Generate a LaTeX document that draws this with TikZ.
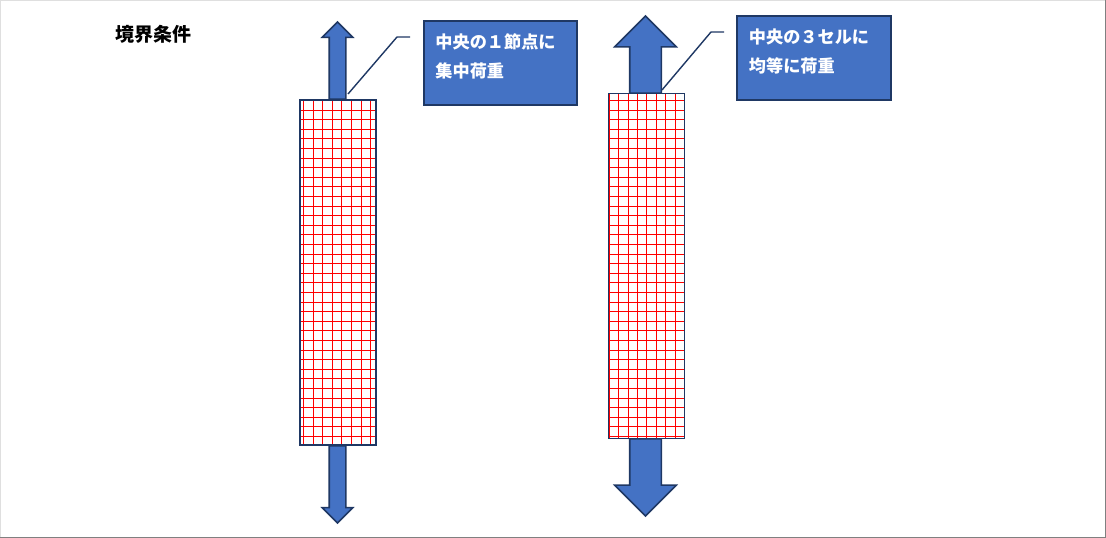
\documentclass[tikz,border=0pt]{standalone}
\usepackage{fontspec}
\usepackage{xcolor}
\setmainfont{Noto Sans CJK JP}
\definecolor{myblue}{HTML}{4472C4}
\definecolor{mynavy}{HTML}{1F3864}
\usetikzlibrary{shapes,arrows,positioning}

\begin{document}
\begin{tikzpicture}[
    x=0.025cm, y=-0.025cm,
    bar/.style={draw=mynavy, line width=1.2pt, minimum width=1.9cm, minimum height=8.625cm, inner sep=0pt},
    meshline/.style={red, line width=0.72pt},
    smallarrow/.style={single arrow, draw=mynavy, line width=1.1pt, fill=myblue, inner sep=0.1875cm, minimum width=0.72cm, single arrow head extend=0.175cm},
    bigarrow/.style={single arrow, draw=mynavy, line width=1.1pt, fill=myblue, inner sep=0.375cm, minimum width=1.5cm, single arrow head extend=0.375cm},
    notebox/.style={draw=mynavy, line width=1.4pt, fill=myblue, text=white, font=\fontsize{12.2}{20.6}\selectfont\bfseries, align=left, text width=3.25cm, minimum width=3.84cm, minimum height=2.1cm, inner xsep=0.295cm, inner ysep=0pt, text depth=1.08cm},
    leader/.style={draw=mynavy, line width=1pt},
]

\useasboundingbox (0,0) rectangle (1106,538);

% frame
\draw[gray!25, line width=0.7pt] (0.5,537) -- (0.5,0.5) -- (1105,0.5);
\draw[gray, line width=0.9pt] (0,537.2) -- (1105.2,537.2) -- (1105.2,0);

% title
\node[anchor=west, inner sep=0pt, font=\fontsize{13.5}{16}\selectfont\bfseries] (title) at (115,34) {境界条件};

% left mesh
\foreach \i in {0,...,7}
    \draw[meshline] ({round(303+9.6*\i)+0.5},100) -- ({round(303+9.6*\i)+0.5},445);
\foreach \j in {1,...,35}
    \draw[meshline] (300,{round(100+9.6*\j)+0.5}) -- (376,{round(100+9.6*\j)+0.5});
\node[bar] (barA) at (338,272.5) {};

% right mesh
\foreach \i in {0,...,8}
    \draw[meshline] ({round(609+9.37*\i)+0.5},94) -- ({round(609+9.37*\i)+0.5},438);
\foreach \j in {0,...,35}
    \draw[meshline] (608,{round(100+9.6*\j)+0.5}) -- (685,{round(100+9.6*\j)+0.5});
\node[bar] (barB) at (646.5,266) {};

% left arrows
\node[smallarrow, rotate=90, minimum height=1.93cm, anchor=tail] (upA) at (337.5,100) {};
\node[smallarrow, rotate=-90, minimum height=1.93cm, anchor=tail] (downA) at (337.5,445) {};

% right arrows
\node[bigarrow, rotate=90, minimum height=1.93cm, anchor=tail] (upB) at (645.5,94) {};
\node[bigarrow, rotate=-90, minimum height=1.93cm, anchor=tail] (downB) at (645.5,438) {};

% notes
\node[notebox] (noteA) at (500.5,63) {中央の１節点に\\集中荷重};
\node[notebox] (noteB) at (814,58) {中央の３セルに\\均等に荷重};

% leader lines
\coordinate (startA) at (348,94);
\coordinate (kneeA) at (397,37);
\coordinate (endA) at (410,37);
\draw[leader] (startA) -- (kneeA) -- (endA);

\coordinate (startB) at (662,90);
\coordinate (kneeB) at (711,32);
\coordinate (endB) at (724,32);
\draw[leader] (startB) -- (kneeB) -- (endB);

\end{tikzpicture}
\end{document}
